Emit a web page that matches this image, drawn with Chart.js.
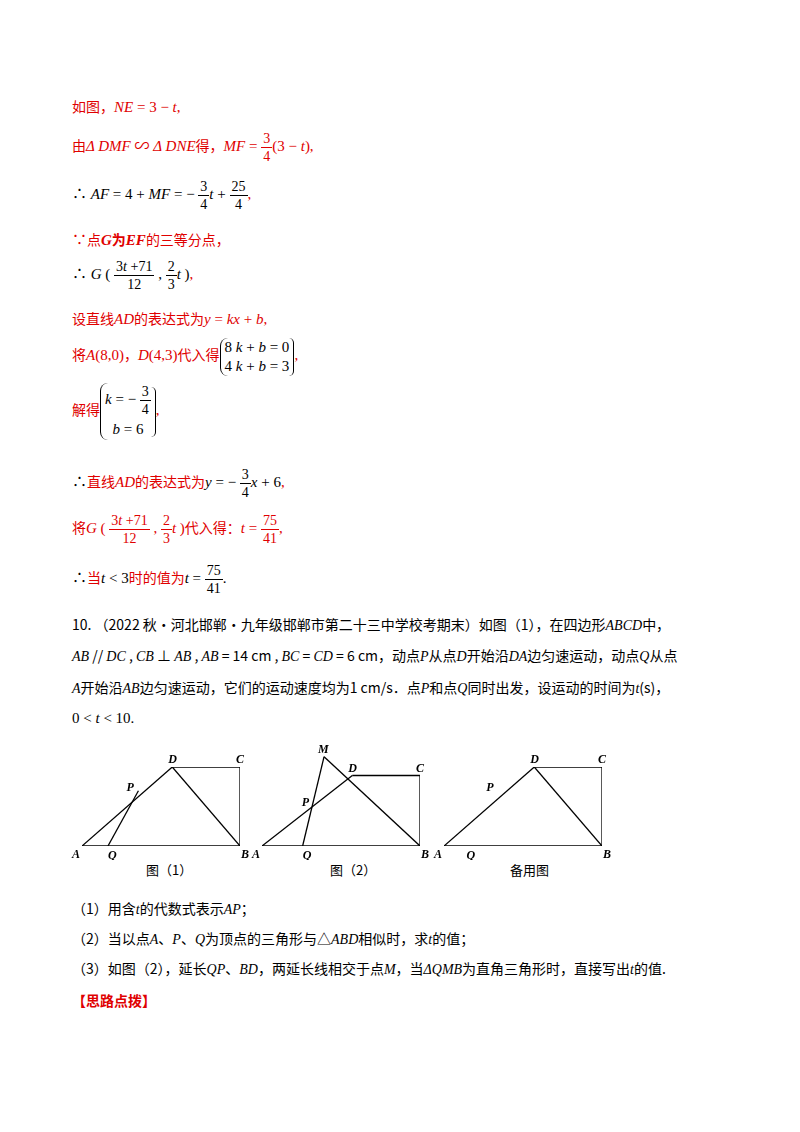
<!DOCTYPE html><html><head><meta charset="utf-8">
<script src="https://cdn.jsdelivr.net/npm/chart.js@4/dist/chart.umd.min.js"></script>
<style>
body{margin:0;width:800px;height:1132px;background:#fff;font-family:"Liberation Serif","Noto Sans CJK SC";font-size:15px;color:#000;position:relative}
.l{position:absolute;left:72px;white-space:nowrap}
.r{color:#e00000}
i{font-family:"Liberation Serif";font-style:italic}
.cn{font-family:"Noto Sans CJK SC";font-size:14px}
.fr{display:inline-block;vertical-align:middle;text-align:center;font-size:14px;line-height:17px}
.fr span{display:block}.fr span:first-child{border-bottom:1px solid currentColor;padding:0 2px}
.br{display:inline-block;vertical-align:middle;border-left:1.5px solid currentColor;border-radius:8px 0 0 8px;padding-left:4px;line-height:19px}
.rb{display:inline-block;vertical-align:middle;border-right:1.5px solid currentColor;border-radius:0 8px 8px 0;padding-right:4px;line-height:19px;height:38px}
.fig{position:absolute}
</style></head><body>
<div class="l r" style="top:96px"><span class="cn">如图，</span><i>NE</i> = 3 − <i>t</i>,</div>
<div class="l r" style="top:130px"><span class="cn">由</span><i>Δ DMF</i> ∽ <i>Δ DNE</i><span class="cn">得，</span><i>MF</i> = <span class="fr"><span>3</span><span>4</span></span>(3 − <i>t</i>),</div>
<div class="l" style="top:178px">∴ <i>AF</i> = 4 + <i>MF</i> = − <span class="fr"><span>3</span><span>4</span></span><i>t</i> + <span class="fr"><span>25</span><span>4</span></span><span class="r">,</span></div>
<div class="l r" style="top:228px">∵<span class="cn">点</span><b><i>G</i></b><span class="cn" style="font-weight:bold">为</span><b><i>EF</i></b><span class="cn">的三等分点，</span></div>
<div class="l" style="top:258px">∴ <i>G</i> ( <span class="fr"><span>3<i>t</i> +71</span><span>12</span></span> , <span class="fr"><span>2</span><span>3</span></span><i>t</i> )<span class="r">,</span></div>
<div class="l r" style="top:308px"><span class="cn">设直线</span><i>AD</i><span class="cn">的表达式为</span><i>y</i> = <i>kx</i> + <i>b</i>,</div>
<div class="l r" style="top:338px"><span class="cn">将</span><i>A</i>(8,0)<span class="cn">，</span><i>D</i>(4,3)<span class="cn">代入得</span><span class="br" style="color:#000"><span>8 <i>k</i> + <i>b</i> = 0</span><br><span>4 <i>k</i> + <i>b</i> = 3</span></span><span class="rb" style="color:#000"></span>,</div>
<div class="l r" style="top:383px"><span class="cn">解得</span><span class="br" style="color:#000;line-height:22px"><i>k</i> = − <span class="fr"><span>3</span><span>4</span></span><br>&nbsp;&nbsp;<i>b</i> = 6</span><span class="rb" style="color:#000;height:50px"></span>,</div>
<div class="l" style="top:466px">∴<span class="cn r">直线</span><span class="r"><i>AD</i></span><span class="cn r">的表达式为</span><i>y</i> = − <span class="fr"><span>3</span><span>4</span></span><i>x</i> + 6<span class="r">,</span></div>
<div class="l r" style="top:512px"><span class="cn">将</span><i>G</i> ( <span class="fr"><span>3<i>t</i> +71</span><span>12</span></span> , <span class="fr"><span>2</span><span>3</span></span><i>t</i> )<span class="cn">代入得：</span><i>t</i> = <span class="fr"><span>75</span><span>41</span></span>,</div>
<div class="l" style="top:562px">∴<span class="cn r">当</span><i>t</i> &lt; 3<span class="cn r">时的值为</span><i>t</i> = <span class="fr"><span>75</span><span>41</span></span>.</div>
<div class="l cn" style="top:614px">10. （2022 秋·河北邯郸·九年级邯郸市第二十三中学校考期末）如图（1），在四边形<i>ABCD</i>中，</div>
<div class="l cn" style="top:645px"><i>AB</i> // <i>DC</i> , <i>CB</i> ⊥ <i>AB</i> , <i>AB</i> = 14 cm , <i>BC</i> = <i>CD</i> = 6 cm，动点<i>P</i>从点<i>D</i>开始沿<i>DA</i>边匀速运动，动点<i>Q</i>从点</div>
<div class="l cn" style="top:677px"><i>A</i>开始沿<i>AB</i>边匀速运动，它们的运动速度均为1 cm/s．点<i>P</i>和点<i>Q</i>同时出发，设运动的时间为<i>t</i>(s)，</div>
<div class="l" style="top:710px">0 &lt; <i>t</i> &lt; 10.</div>
<div class="fig" style="left:70px;top:755px;width:180px;height:105px"><canvas id="f1"></canvas></div>
<div class="fig" style="left:250px;top:740px;width:180px;height:120px"><canvas id="f2"></canvas></div>
<div class="fig" style="left:432px;top:755px;width:180px;height:105px"><canvas id="f3"></canvas></div>
<div class="l cn" style="top:860px;left:146px;font-size:13px">图（1）</div>
<div class="l cn" style="top:860px;left:330px;font-size:13px">图（2）</div>
<div class="l cn" style="top:860px;left:510px;font-size:13px">备用图</div>
<div class="l cn" style="top:898px">（1）用含<i>t</i>的代数式表示<i>AP</i>；</div>
<div class="l cn" style="top:928px">（2）当以点<i>A</i>、<i>P</i>、<i>Q</i>为顶点的三角形与△<i>ABD</i>相似时，求<i>t</i>的值；</div>
<div class="l cn" style="top:958px">（3）如图（2），延长<i>QP</i>、<i>BD</i>，两延长线相交于点<i>M</i>，当<i>ΔQMB</i>为直角三角形时，直接写出<i>t</i>的值.</div>
<div class="l cn r" style="top:990px;font-weight:bold">【思路点拨】</div>
<script>
const ptA=[0,0], ptB=[14,0], ptC=[14,6], ptD=[8,6];
const fig1P=[5,4.2], fig1Q=[2.3,0];
const fig2P=[4.4,3.6], fig2Q=[3.6,0], fig2M=[5.5,7.6];
const fig3P=[4.8,4.2], fig3Q=[2,0];
const segs1=[[ptA,ptB],[ptB,ptC],[ptC,ptD],[ptD,ptA],[ptD,ptB],[fig1P,fig1Q]];
const segs2=[[ptA,ptB],[ptB,ptC],[ptC,ptD],[ptD,ptA],[fig2M,ptB],[fig2M,fig2Q]];
const segs3=[[ptA,ptB],[ptB,ptC],[ptC,ptD],[ptD,ptA],[ptD,ptB]];
function make(id,segs,labels,ymax){
 const lbl={id:'lbl',afterDatasetsDraw(c){const x=c.scales.x,y=c.scales.y,g=c.ctx;g.save();g.font='bold italic 12px "Liberation Serif"';g.fillStyle='#000';
  labels.forEach(([t,p,dx,dy])=>g.fillText(t,x.getPixelForValue(p[0])+dx,y.getPixelForValue(p[1])+dy));g.restore();}};
 new Chart(document.getElementById(id),{type:'scatter',
  data:{datasets:segs.map(s=>({data:s.map(p=>({x:p[0],y:p[1]})),showLine:true,borderColor:'#000',borderWidth:1.3,pointRadius:0}))},
  options:{responsive:true,maintainAspectRatio:false,animation:false,layout:{padding:{left:12,right:10,top:12,bottom:14}},
   plugins:{legend:{display:false},tooltip:{enabled:false}},
   scales:{x:{display:false,min:0,max:14},y:{display:false,min:0,max:ymax}}},plugins:[lbl]});
}
const base=[['A',ptA,-10,12],['B',ptB,1,12],['C',ptC,-4,-4],['D',ptD,-4,-4]];
make('f1',segs1,base.concat([['P',fig1P,-12,0],['Q',fig1Q,0,13]]),6);
make('f2',segs2,base.concat([['P',fig2P,-10,2],['Q',fig2Q,0,13],['M',fig2M,-6,-4]]),8);
make('f3',segs3,base.concat([['P',fig3P,-12,0],['Q',fig3Q,0,13]]),6);
</script></body></html>
